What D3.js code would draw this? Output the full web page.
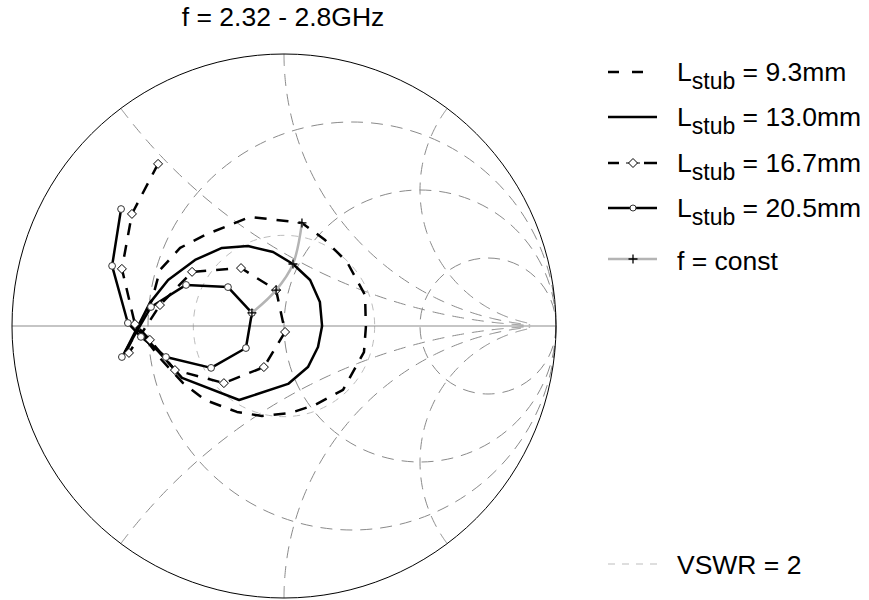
<!DOCTYPE html>
<meta charset="utf-8">
<style>
body { margin: 0; background: #fff; }
svg { display: block; font-family: "Liberation Sans", Arial, sans-serif; }
.grid { fill: none; stroke: #8a8a8a; stroke-width: 1; stroke-dasharray: 12,8; }
.vswr { fill: none; stroke: #bdbdbd; stroke-width: 1; stroke-dasharray: 7,7; }
.series { fill: none; stroke: #000; stroke-width: 2.5; stroke-linejoin: round; }
.dashed { stroke-dasharray: 12,10; }
.legdash { stroke-dasharray: 11,13; }
.fconst { fill: none; stroke: #b4b4b4; stroke-width: 2.5; }
.plus { stroke: #000; stroke-width: 1.3; fill: none; }
.diamond { fill: #fff; stroke: #000; stroke-width: 1; }
.dot { fill: #fff; stroke: #333; stroke-width: 1; }
</style>
<body>
<script src="https://d3js.org/d3.v7.min.js"></script>
<script>
// reflection coefficient points [re, im]
var gamma93 = [[-0.577,-0.088],[-0.485,0.096],[-0.456,0.206],[-0.382,0.287],[-0.290,0.335],
  [-0.125,0.401],[0.066,0.379],[0.151,0.316],[0.232,0.235],[0.298,0.114],[0.301,-0.004],
  [0.294,-0.096],[0.217,-0.235],[0.114,-0.290],[0.022,-0.320],[-0.081,-0.331],[-0.173,-0.316],
  [-0.290,-0.272],[-0.371,-0.210],[-0.456,-0.118],[-0.529,-0.022]];
var gamma130 = [[-0.585,-0.096],[-0.493,0.085],[-0.426,0.169],[-0.327,0.243],[-0.228,0.287],
  [-0.132,0.294],[-0.040,0.272],[0.033,0.228],[0.096,0.169],[0.132,0.088],[0.140,0.000],
  [0.125,-0.077],[0.088,-0.151],[0.015,-0.213],[-0.165,-0.272],[-0.375,-0.191],[-0.467,-0.088],
  [-0.537,-0.015]];
var gamma167 = [[-0.463,0.596],[-0.559,0.412],[-0.596,0.210],[-0.548,0.007],[-0.493,-0.051],
  [-0.401,-0.162],[-0.221,-0.210],[-0.074,-0.151],[0.004,-0.022],[-0.029,0.132],[-0.158,0.213],
  [-0.338,0.199],[-0.456,0.077],[-0.570,-0.099]];
var gamma205 = [[-0.599,0.430],[-0.632,0.221],[-0.574,0.011],[-0.526,-0.040],[-0.434,-0.114],
  [-0.268,-0.154],[-0.140,-0.081],[-0.118,0.048],[-0.206,0.143],[-0.360,0.151],[-0.489,0.070],
  [-0.596,-0.114]];
var gammaConst = [[0.066,0.379],[0.033,0.228],[-0.029,0.132],[-0.118,0.048]];

var stubLabels = ["9.3mm", "13.0mm", "16.7mm", "20.5mm"];
var titleText = "f = 2.32 - 2.8GHz";
var vswr = 2;
var rCircles = [1/3, 1, 3];
var xArcs = [0.5, 1, 2, -0.5, -1, -2];

var width = 869, height = 600;
var cx = 284, cy = 326, R = 272;
var fs = 26.5;

var svg = d3.select("body").append("svg")
  .attr("width", width)
  .attr("height", height);

var x = d3.scaleLinear().domain([-1, 1]).range([cx - R, cx + R]);
var y = d3.scaleLinear().domain([-1, 1]).range([cy + R, cy - R]);

function gammaOf(r, xv) {
  var den = (r + 1) * (r + 1) + xv * xv;
  return [(r * r + xv * xv - 1) / den, 2 * xv / den];
}

var line = d3.line().x(function(d) { return x(d[0]); }).y(function(d) { return y(d[1]); });

// grid: constant resistance circles
var grid = svg.append("g");
rCircles.forEach(function(r) {
  var c = r / (1 + r), rad = 1 / (1 + r);
  grid.append("circle").attr("class", "grid")
    .attr("cx", x(c)).attr("cy", y(0))
    .attr("r", x(c + rad) - x(c));
});
// constant reactance arcs, stopped before they all meet at the right
xArcs.forEach(function(xv) {
  var pts = d3.range(0, 201).map(function(i) {
    var t = i / 200;
    return gammaOf(20 * t * t * t, xv);
  });
  grid.append("path").attr("class", "grid").attr("d", line(pts));
});

// VSWR circle
var g2 = (vswr - 1) / (vswr + 1);
svg.append("circle").attr("class", "vswr")
  .attr("cx", x(0)).attr("cy", y(0)).attr("r", x(g2) - x(0));

// real axis and outer circle
svg.append("line")
  .attr("x1", x(-1)).attr("x2", x(1)).attr("y1", y(0)).attr("y2", y(0))
  .attr("stroke", "#8c8c8c").attr("stroke-width", 1.2);
svg.append("circle")
  .attr("cx", x(0)).attr("cy", y(0)).attr("r", x(1) - x(0))
  .attr("fill", "none").attr("stroke", "#000").attr("stroke-width", 1);

// series
svg.append("path").attr("class", "series dashed").attr("d", line(gamma93));
svg.append("path").attr("class", "series").attr("d", line(gamma130));
svg.append("path").attr("class", "series dashed").attr("d", line(gamma167));
svg.append("path").attr("class", "series").attr("d", line(gamma205));

var diamondPath = "M0,-4.5L4.5,0L0,4.5L-4.5,0Z";
var plusPath = "M-4.5,0H4.5M0,-4.5V4.5";

svg.append("g").selectAll("path").data(gamma167).enter().append("path")
  .attr("class", "diamond").attr("d", diamondPath)
  .attr("transform", function(d) { return "translate(" + x(d[0]) + "," + y(d[1]) + ")"; });
svg.append("g").selectAll("circle").data(gamma205).enter().append("circle")
  .attr("class", "dot").attr("r", 3.4)
  .attr("cx", function(d) { return x(d[0]); })
  .attr("cy", function(d) { return y(d[1]); });

// f = const
svg.append("path").attr("class", "fconst")
  .attr("d", line.curve(d3.curveCatmullRom)(gammaConst));
line.curve(d3.curveLinear);
svg.append("g").selectAll("path").data(gammaConst).enter().append("path")
  .attr("class", "plus").attr("d", plusPath)
  .attr("transform", function(d) { return "translate(" + x(d[0]) + "," + y(d[1]) + ")"; });

// title
svg.append("text")
  .attr("x", 283).attr("y", 26)
  .attr("text-anchor", "middle")
  .attr("font-size", fs)
  .text(titleText);

// legend
var lx1 = 608, lx2 = 657, lmid = 633, tx = 677;
var rowY = [72, 117, 163, 208];
var leg = svg.append("g");
stubLabels.forEach(function(lab, i) {
  var yy = rowY[i];
  if (i === 2) {
    leg.append("line").attr("class", "series")
      .attr("x1", lx1).attr("x2", 619).attr("y1", yy).attr("y2", yy);
    leg.append("line").attr("class", "series")
      .attr("x1", 644).attr("x2", lx2).attr("y1", yy).attr("y2", yy);
    leg.append("line").attr("stroke", "#000").attr("stroke-width", 1)
      .attr("x1", 626).attr("x2", 640).attr("y1", yy).attr("y2", yy);
    leg.append("path").attr("class", "diamond").attr("d", diamondPath)
      .attr("transform", "translate(" + lmid + "," + yy + ")");
  } else {
    leg.append("line")
      .attr("class", "series" + (i === 0 ? " legdash" : ""))
      .attr("x1", lx1).attr("x2", i === 0 ? 645 : lx2).attr("y1", yy).attr("y2", yy);
  }
  if (i === 3) {
    leg.append("circle").attr("class", "dot").attr("r", 3)
      .attr("cx", lmid).attr("cy", yy);
  }
  var t = leg.append("text").attr("x", tx).attr("y", yy + 8.5).attr("font-size", fs);
  t.append("tspan").text("L");
  t.append("tspan").attr("font-size", 23).attr("dy", 8).text("stub");
  t.append("tspan").attr("dy", -8).text(" = " + lab);
});

leg.append("line").attr("class", "fconst")
  .attr("x1", lx1).attr("x2", lx2).attr("y1", 259).attr("y2", 259);
leg.append("path").attr("class", "plus").attr("d", plusPath)
  .attr("transform", "translate(" + lmid + ",259)");
leg.append("text").attr("x", tx).attr("y", 269.5).attr("font-size", fs).text("f = const");

leg.append("line").attr("class", "vswr")
  .attr("x1", lx1).attr("x2", lx2).attr("y1", 564).attr("y2", 564);
leg.append("text").attr("x", tx).attr("y", 574).attr("font-size", fs).text("VSWR = " + vswr);
</script>
